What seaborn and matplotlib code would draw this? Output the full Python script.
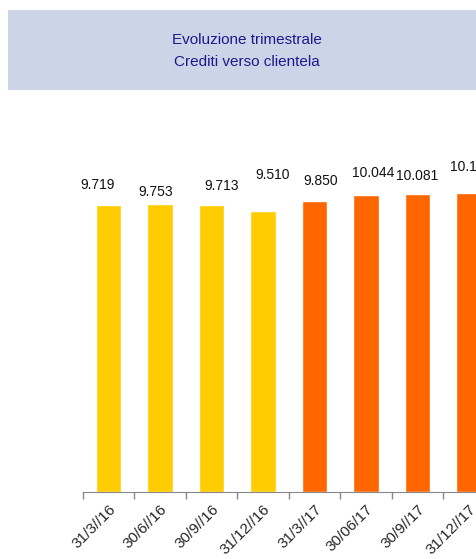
import numpy as np
import pandas as pd
import matplotlib
matplotlib.use("Agg")
import matplotlib.pyplot as plt
from matplotlib.patches import Rectangle
from matplotlib.transforms import ScaledTranslation
import seaborn as sns

# dati (milioni, crediti verso clientela)
trimestri = ["31/3//16", "30/6//16", "30/9//16", "31/12//16",
             "31/3//17", "30/06/17", "30/9//17", "31/12//17"]
valori = [9719, 9753, 9713, 9510, 9850, 10044, 10081, 10115]
anni = ["2016", "2016", "2016", "2016", "2017", "2017", "2017", "2017"]
etichette = ["9.719", "9.753", "9.713", "9.510", "9.850", "10.044", "10.081", "10.115"]

colori = {"2016": "#FFCC00", "2017": "#FF6600"}

# spostamenti delle etichette (pixel), come nel grafico originale
label_dx = [-11, -4, 10, 10, 6, 7, 0, 2]
label_dy = [20, 12, 19, 36, 20, 22, 18, 26]

sns.set_style("white")
font = ["Liberation Sans", "DejaVu Sans"]

df = pd.DataFrame({"trimestre": trimestri, "valore": valori, "anno": anni})

fig = plt.figure(figsize=(4.76, 5.59), dpi=100)

# banda del titolo
fig.patches.append(Rectangle((8 / 476, (559 - 90) / 559), 470 / 476, 80 / 559,
                             transform=fig.transFigure, facecolor="#CCD5E8",
                             edgecolor="none", zorder=0))
fig.text(247 / 476, 1 - 40 / 559, "Evoluzione trimestrale", ha="center", va="center",
         color="#1A1A8C", fontsize=11, family=font)
fig.text(247 / 476, 1 - 62 / 559, "Crediti verso clientela", ha="center", va="center",
         color="#1A1A8C", fontsize=11, family=font)

ax = fig.add_axes([82.7 / 476, 67.3 / 559, 412 / 476, 354 / 559])
sns.barplot(data=df, x="trimestre", y="valore", hue="anno", palette=colori,
            saturation=1, width=0.49, dodge=False, legend=False, ax=ax)
ax.set_ylim(0, 12000)
ax.set_xlim(-0.5, len(trimestri) - 0.5)

for i, (v, lab) in enumerate(zip(valori, etichette)):
    ax.annotate(lab, (i, v), xytext=(label_dx[i] * 0.72, label_dy[i] * 0.72),
                textcoords="offset points", ha="center", va="center",
                fontsize=10, family=font, color="#111111",
                annotation_clip=False)

# assi
for s in ["top", "right", "left"]:
    ax.spines[s].set_visible(False)
ax.spines["bottom"].set_color("#888888")
ax.set_yticks([])
ax.set_xlabel("")
ax.set_ylabel("")
ax.set_xticks(np.arange(-0.5, len(trimestri)), minor=True)
ax.tick_params(axis="x", which="minor", bottom=True, length=5, width=1,
               color="#888888", direction="out")
ax.tick_params(axis="x", which="major", bottom=True, length=0, pad=11)
ax.set_xticks(range(len(trimestri)))
ax.set_xticklabels(trimestri, rotation=45, ha="right", va="center",
                   rotation_mode="anchor", fontsize=11, family=font)
sposta = ScaledTranslation(5 / 100, 0, fig.dpi_scale_trans)
for t in ax.get_xticklabels():
    t.set_transform(t.get_transform() + sposta)

fig.savefig("out.png", dpi=100)
